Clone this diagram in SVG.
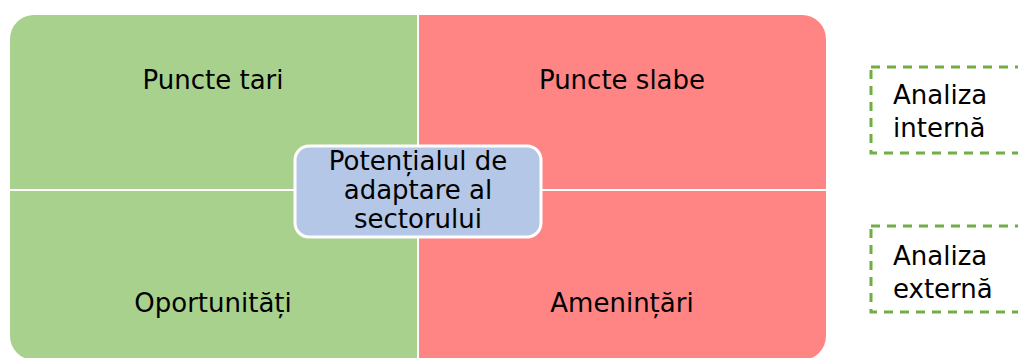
<svg xmlns="http://www.w3.org/2000/svg" width="1018" height="358" viewBox="0 0 1018 358">
<style>
text{font-family:"DejaVu Sans","Verdana",sans-serif;fill:#000;font-size:26px;text-anchor:middle}
.g{fill:#a9d18e}.r{fill:#ff8585}
.dash{fill:#fff;stroke:#70ad47;stroke-width:3;stroke-dasharray:9 7}
.side{text-anchor:start}
</style>
<defs><clipPath id="c"><rect x="10" y="15" width="816" height="345" rx="24"/></clipPath></defs>
<rect width="1018" height="358" fill="#fff"/>
<g clip-path="url(#c)">
<g id="tari"><rect class="g" x="10" y="15" width="407" height="174"/><text x="213" y="89">Puncte tari</text></g>
<g id="slabe"><rect class="r" x="419" y="15" width="407" height="174"/><text x="622" y="89">Puncte slabe</text></g>
<g id="oport"><rect class="g" x="10" y="191" width="407" height="170"/><text x="213" y="312">Oportunități</text></g>
<g id="amen"><rect class="r" x="419" y="191" width="407" height="170"/><text x="622" y="312">Amenințări</text></g>
</g>
<g id="connectors"></g>
<g id="center"><rect x="295" y="146" width="246" height="91" rx="14" fill="#b4c7e7" stroke="#fff" stroke-width="3"/>
<text x="418" y="170">Potențialul de</text><text x="418" y="199">adaptare al</text><text x="418" y="228">sectorului</text></g>
<g id="interna"><rect class="dash" x="871" y="67" width="160" height="86"/><text class="side" x="893" y="104">Analiza</text><text class="side" x="893" y="137">internă</text></g>
<g id="externa"><rect class="dash" x="871" y="226" width="160" height="86"/><text class="side" x="893" y="265">Analiza</text><text class="side" x="893" y="298">externă</text></g>
</svg>
